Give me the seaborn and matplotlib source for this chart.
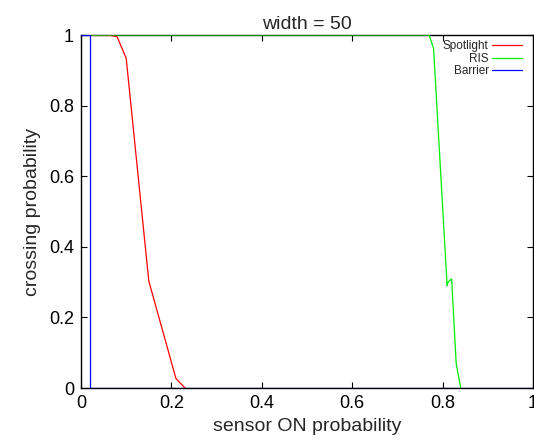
import matplotlib
matplotlib.use("Agg")
import matplotlib.pyplot as plt
import seaborn as sns
import pandas as pd

spot_x = [0.0, 0.02, 0.04, 0.06, 0.08, 0.10, 0.15, 0.21, 0.23]
spot_y = [1.0, 1.0, 1.0, 1.0, 0.995, 0.934, 0.303, 0.027, 0.0]
ris_x = [0.02, 0.77, 0.78, 0.81, 0.812, 0.82, 0.83, 0.84]
ris_y = [1.0, 1.0, 0.962, 0.29, 0.30, 0.309, 0.07, 0.0]
bar_x = [0.0, 0.021, 0.021, 1.0]
bar_y = [1.0, 1.0, 0.0, 0.0]

series = ["Spotlight", "RIS", "Barrier"]
colors = ["#ff0000", "#00ee00", "#0000ff"]
xticks = [0, 0.2, 0.4, 0.6, 0.8, 1]
xtick_labels = ["0", "0.2", "0.4", "0.6", "0.8", "1"]
yticks = [0, 0.2, 0.4, 0.6, 0.8, 1]
ytick_labels = ["0", "0.2", "0.4", "0.6", "0.8", "1"]

frames = []
for name, xs, ys in zip(series, [spot_x, ris_x, bar_x], [spot_y, ris_y, bar_y]):
    frames.append(pd.DataFrame({"x": xs, "y": ys, "series": name, "order": range(len(xs))}))
df = pd.concat(frames, ignore_index=True)

sns.set_style("ticks")
plt.rcParams["font.family"] = ["Liberation Sans", "DejaVu Sans"]

fig = plt.figure(figsize=(5.34, 4.48), dpi=100)
ax = fig.add_axes([81 / 534, 1 - 388 / 448, 452 / 534, 353 / 448])

sns.lineplot(data=df, x="x", y="y", hue="series", hue_order=series,
             palette=dict(zip(series, colors)), estimator=None, sort=False,
             units="series", linewidth=0.9, ax=ax)

ax.set_xlim(0, 1)
ax.set_ylim(0, 1)
ax.set_xticks(xticks)
ax.set_xticklabels(xtick_labels)
ax.set_yticks(yticks)
ax.set_yticklabels(ytick_labels)
ax.tick_params(direction="in", top=True, right=True, length=4, width=0.8,
               labelsize=13, pad=5, colors="black")
for s in ax.spines.values():
    s.set_visible(True)
    s.set_linewidth(1.0)
    s.set_color("black")
    s.set_zorder(1)

ax.set_title("width = 50", fontsize=14, pad=4)
ax.set_xlabel("sensor ON probability", fontsize=14, labelpad=4)
ax.set_ylabel("crossing probability", fontsize=14, labelpad=6)

handles, labels = ax.get_legend_handles_labels()
leg = ax.legend(handles, labels, loc="upper right", bbox_to_anchor=(0.975, 0.985),
                frameon=False, markerfirst=False, fontsize=8.5, handlelength=2.5,
                handletextpad=0.3, labelspacing=0.05, borderpad=0, borderaxespad=0)
for t in leg.get_texts():
    t.set_ha("right")

fig.savefig("out.png", dpi=100)
